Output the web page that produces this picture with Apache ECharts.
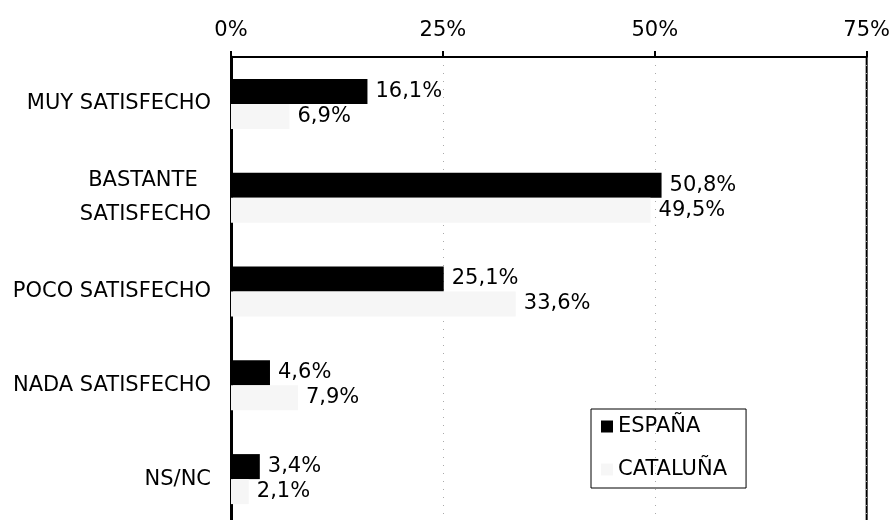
<!DOCTYPE html>
<html>
<head>
<meta charset="utf-8">
<script src="https://cdn.jsdelivr.net/npm/echarts@6/dist/echarts.min.js"></script>
<style>
  html, body { margin: 0; padding: 0; background: #fff; overflow: hidden; }
  /* el grafico original sigue por debajo del recorte */
  #chart { width: 893px; height: 526px; }
</style>
</head>
<body>
<div id="chart"></div>
<script>
// categorias y valores (%)
var categories = ["MUY SATISFECHO", "BASTANTE SATISFECHO", "POCO SATISFECHO", "NADA SATISFECHO", "NS/NC"];
var espana = [16.1, 50.8, 25.1, 4.6, 3.4];
var cataluna = [6.9, 49.5, 33.6, 7.9, 2.1];
var seriesNames = ["ESPAÑA", "CATALUÑA"];
var xTicks = [0, 25, 50, 75];

var FONT = "DejaVu Sans";
var FS = 21;
var myChart = echarts.init(document.getElementById("chart"));

function pct(v) {
  return String(v.toFixed(1)).replace(".", ",") + "%";
}

var labelStyle = {
  show: true,
  position: "right",
  distance: 8,
  color: "#000",
  fontFamily: FONT,
  fontSize: FS,
  formatter: function (p) { return pct(p.value); }
};

var option = {
  animation: false,
  backgroundColor: "#fff",
  grid: {
    left: 231,
    right: 23,
    top: 57,
    bottom: 0,
    show: true,
    borderColor: "#000",
    borderWidth: 2,
    backgroundColor: "transparent"
  },
  legend: {
    orient: "vertical",
    left: 591,
    top: 409,
    data: seriesNames,
    borderColor: "#000",
    borderWidth: 1,
    padding: [7, 19, 8, 10],
    itemGap: 22,
    itemWidth: 12,
    itemHeight: 12,
    icon: "rect",
    textStyle: { color: "#000", fontFamily: FONT, fontSize: FS }
  },
  xAxis: {
    type: "value",
    position: "top",
    min: xTicks[0],
    max: xTicks[xTicks.length - 1],
    interval: 25,
    axisLine: { show: true, lineStyle: { color: "#000", width: 2 } },
    axisTick: { show: true, inside: false, length: 6, lineStyle: { color: "#000", width: 2 } },
    axisLabel: {
      color: "#000",
      fontFamily: FONT,
      fontSize: FS,
      margin: 16,
      formatter: "{value}%"
    },
    splitLine: { show: true, lineStyle: { color: "#aaa", width: 1, type: [1, 7] } }
  },
  yAxis: {
    type: "category",
    inverse: true,
    data: categories,
    axisLine: { show: true, lineStyle: { color: "#000", width: 3 } },
    axisTick: { show: false },
    axisLabel: {
      color: "#000",
      fontFamily: FONT,
      fontSize: FS,
      margin: 20,
      lineHeight: 34,
      formatter: function (v) {
        return v === "BASTANTE SATISFECHO" ? "BASTANTE  \nSATISFECHO" : v;
      }
    }
  },
  series: [
    {
      name: seriesNames[0],
      type: "bar",
      data: espana,
      barWidth: 25,
      barGap: "0%",
      itemStyle: { color: "#000" },
      label: labelStyle
    },
    {
      name: seriesNames[1],
      type: "bar",
      data: cataluna,
      barWidth: 25,
      itemStyle: { color: "#f6f6f6" },
      label: labelStyle
    }
  ]
};

myChart.setOption(option);
</script>
</body>
</html>
